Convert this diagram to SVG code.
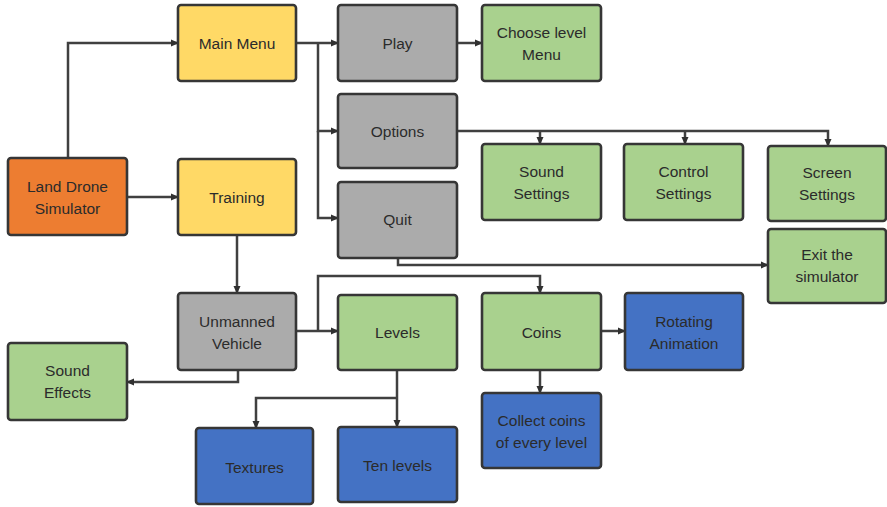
<svg xmlns="http://www.w3.org/2000/svg" width="887" height="507" viewBox="0 0 887 507">
<style>
.n rect{stroke:#363636;stroke-width:2.6}
.or{fill:#ED7D31}.ye{fill:#FFD966}.gr{fill:#ABABAB}.gn{fill:#A9D18E}.bl{fill:#4472C4}
text{font-family:"Liberation Sans",Arial,sans-serif;font-size:15.5px;fill:#2b2b2b;text-anchor:middle;dominant-baseline:central}
.c path{fill:none;stroke:#404040;stroke-width:2.5}
</style>
<defs>
<marker id="a" markerUnits="userSpaceOnUse" markerWidth="8" markerHeight="8" refX="7" refY="4" orient="auto">
<path d="M0,0.5 L8,4 L0,7.5 Z" fill="#303030"/>
</marker>
</defs>
<rect width="887" height="507" fill="#fff"/>
<g class="c">
<path d="M68,158 V43 H178" marker-end="url(#a)"/>
<path d="M127,197 H178" marker-end="url(#a)"/>
<path d="M296,43 H338" marker-end="url(#a)"/>
<path d="M318,43 V131 H338" marker-end="url(#a)"/>
<path d="M318,131 V218 H338" marker-end="url(#a)"/>
<path d="M457,43 H482" marker-end="url(#a)"/>
<path d="M457,131 H828 V146" marker-end="url(#a)"/>
<path d="M540,131 V144" marker-end="url(#a)"/>
<path d="M685,131 V144" marker-end="url(#a)"/>
<path d="M398,258 V265 H768" marker-end="url(#a)"/>
<path d="M237,235 V293" marker-end="url(#a)"/>
<path d="M296,331 H338" marker-end="url(#a)"/>
<path d="M318,331 V276 H540 V293" marker-end="url(#a)"/>
<path d="M238,370 V382 H127" marker-end="url(#a)"/>
<path d="M397,370 V427" marker-end="url(#a)"/>
<path d="M397,398 H256 V428" marker-end="url(#a)"/>
<path d="M601,331 H625" marker-end="url(#a)"/>
<path d="M540,370 V393" marker-end="url(#a)"/>
</g>
<g id="land" class="n"><rect class="or" x="8" y="158" width="119" height="77" rx="3"/><text x="67.5" y="186">Land Drone</text><text x="67.5" y="208">Simulator</text></g>
<g id="mainmenu" class="n"><rect class="ye" x="178" y="5" width="118" height="76" rx="3"/><text x="237" y="43">Main Menu</text></g>
<g id="training" class="n"><rect class="ye" x="178" y="159" width="118" height="76" rx="3"/><text x="237" y="197">Training</text></g>
<g id="play" class="n"><rect class="gr" x="338" y="5" width="119" height="76" rx="3"/><text x="397.5" y="43">Play</text></g>
<g id="options" class="n"><rect class="gr" x="338" y="94" width="119" height="74" rx="3"/><text x="397.5" y="131">Options</text></g>
<g id="quit" class="n"><rect class="gr" x="338" y="182" width="119" height="76" rx="3"/><text x="397.5" y="219">Quit</text></g>
<g id="chooselevel" class="n"><rect class="gn" x="482" y="5" width="119" height="76" rx="3"/><text x="541.5" y="32">Choose level</text><text x="541.5" y="54">Menu</text></g>
<g id="sound" class="n"><rect class="gn" x="482" y="144" width="119" height="76" rx="3"/><text x="541.5" y="171">Sound</text><text x="541.5" y="193">Settings</text></g>
<g id="control" class="n"><rect class="gn" x="624" y="144" width="119" height="76" rx="3"/><text x="683.5" y="171">Control</text><text x="683.5" y="193">Settings</text></g>
<g id="screen" class="n"><rect class="gn" x="768" y="146" width="118" height="75" rx="3"/><text x="827" y="172">Screen</text><text x="827" y="194">Settings</text></g>
<g id="exit" class="n"><rect class="gn" x="768" y="229" width="118" height="74" rx="3"/><text x="827" y="254">Exit the</text><text x="827" y="276">simulator</text></g>
<g id="unmanned" class="n"><rect class="gr" x="178" y="293" width="118" height="77" rx="3"/><text x="237" y="321">Unmanned</text><text x="237" y="343">Vehicle</text></g>
<g id="levels" class="n"><rect class="gn" x="338" y="295" width="119" height="75" rx="3"/><text x="397.5" y="332">Levels</text></g>
<g id="coins" class="n"><rect class="gn" x="482" y="293" width="119" height="77" rx="3"/><text x="541.5" y="332">Coins</text></g>
<g id="rotating" class="n"><rect class="bl" x="625" y="293" width="118" height="77" rx="3"/><text x="684" y="321">Rotating</text><text x="684" y="343">Animation</text></g>
<g id="soundeffects" class="n"><rect class="gn" x="8" y="343" width="119" height="77" rx="3"/><text x="67.5" y="370">Sound</text><text x="67.5" y="392">Effects</text></g>
<g id="collect" class="n"><rect class="bl" x="482" y="393" width="119" height="75" rx="3"/><text x="541.5" y="420">Collect coins</text><text x="541.5" y="442">of every level</text></g>
<g id="textures" class="n"><rect class="bl" x="196" y="428" width="117" height="76" rx="3"/><text x="254.5" y="467">Textures</text></g>
<g id="tenlevels" class="n"><rect class="bl" x="338" y="427" width="119" height="75" rx="3"/><text x="397.5" y="465">Ten levels</text></g>
</svg>
